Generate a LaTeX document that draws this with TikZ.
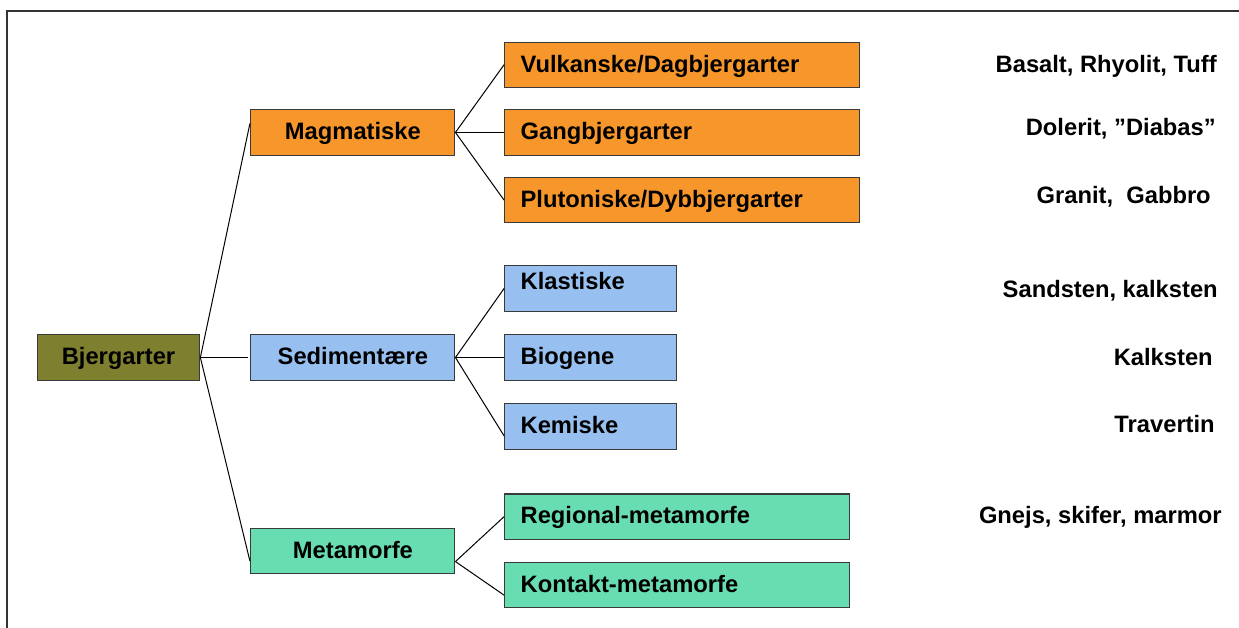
\documentclass[tikz,border=0pt]{standalone}
\usepackage{fontspec}
\setmainfont{Liberation Sans}
\usetikzlibrary{positioning}
\definecolor{rootColor}{HTML}{7F7F30}
\definecolor{magColor}{HTML}{F7962B}
\definecolor{sedColor}{HTML}{97C0F0}
\definecolor{metaColor}{HTML}{69DDB2}
\definecolor{boxBorder}{HTML}{3A3A3A}

\begin{document}
\begin{tikzpicture}[
    x=0.75pt, y=-0.75pt,
    every node/.style={font=\fontsize{17.8}{21}\selectfont\bfseries},
    box/.style={
        draw=boxBorder,
        line width=0.8pt,
        inner ysep=0pt,
        minimum height=34pt,
        text height=12.5pt,
        text depth=1.5pt,
    },
    group/.style={
        box,
        minimum width=153pt,
        align=center,
    },
    kind/.style={
        box,
        inner xsep=12pt,
        align=left,
    },
    example/.style={
        anchor=base east,
        inner sep=0pt,
    },
    link/.style={
        line width=0.75pt,
    },
]

\useasboundingbox (0,0) rectangle (1239,628);

% frame
\draw[line width=1.5pt, draw=black!80] (7,628) -- (7,11) -- (1239,11);

% tree
\node[box, fill=rootColor, minimum width=122pt] (root) at (118.5,357.5) {Bjergarter};

\node[group, fill=sedColor, right=37.5pt of root] (sed) {Sedimentære};
\node[group, fill=magColor, above=134pt of sed] (mag) {Magmatiske};
\node[group, fill=metaColor, below=110.25pt of sed] (meta) {Metamorfe};

\node[kind, fill=magColor, text width=242pt, right=36.5pt of mag] (gang) {Gangbjergarter};
\node[kind, fill=magColor, text width=242pt, above=16pt of gang] (vulk) {Vulkanske/Dagbjergarter};
\node[kind, fill=magColor, text width=242pt, below=16pt of gang] (plut) {Plutoniske/Dybbjergarter};

\node[kind, fill=sedColor, text width=105pt, right=36.5pt of sed] (bio) {Biogene};
\node[kind, fill=sedColor, text width=105pt, text depth=11pt, above=17pt of bio] (klas) {Klastiske};
\node[kind, fill=sedColor, text width=105pt, below=17pt of bio] (kem) {Kemiske};

\node[kind, fill=metaColor, text width=234.5pt, above right=8.3pt and 36.5pt of meta.east] (reg) {Regional-metamorfe};
\node[kind, fill=metaColor, text width=234.5pt, below right=8.3pt and 36.5pt of meta.east] (kon) {Kontakt-metamorfe};

% examples
\node[example] (vulkEx) at (1217,72) {Basalt, Rhyolit, Tuff};
\node[example] (gangEx) at (1216,135) {Dolerit, ”Diabas”};
\node[example] (plutEx) at (1211,203) {Granit,\ \ Gabbro};
\node[example] (klasEx) at (1218,297) {Sandsten, kalksten};
\node[example] (bioEx) at (1213,365) {Kalksten};
\node[example] (kemEx) at (1215,432.5) {Travertin};
\node[example] (regEx) at (1222,523) {Gnejs, skifer, marmor};

% connectors
\draw[link, shorten >=1.5pt] (root.east) -- ([yshift=8.25pt]mag.west);
\draw[link, shorten >=1.5pt] (root.east) -- (sed.west);
\draw[link, shorten >=1.5pt] (root.east) -- ([yshift=-9pt]meta.west);

\draw[link] (mag.east) -- (vulk.west);
\draw[link] (mag.east) -- (gang.west);
\draw[link] (mag.east) -- (plut.west);

\draw[link] (sed.east) -- (klas.west);
\draw[link] (sed.east) -- (bio.west);
\draw[link] (sed.east) -- ([yshift=-7pt]kem.west);

\draw[link] ([yshift=-8pt]meta.east) -- (reg.west);
\draw[link] ([yshift=-8pt]meta.east) -- ([yshift=-7.5pt]kon.west);

\end{tikzpicture}
\end{document}
